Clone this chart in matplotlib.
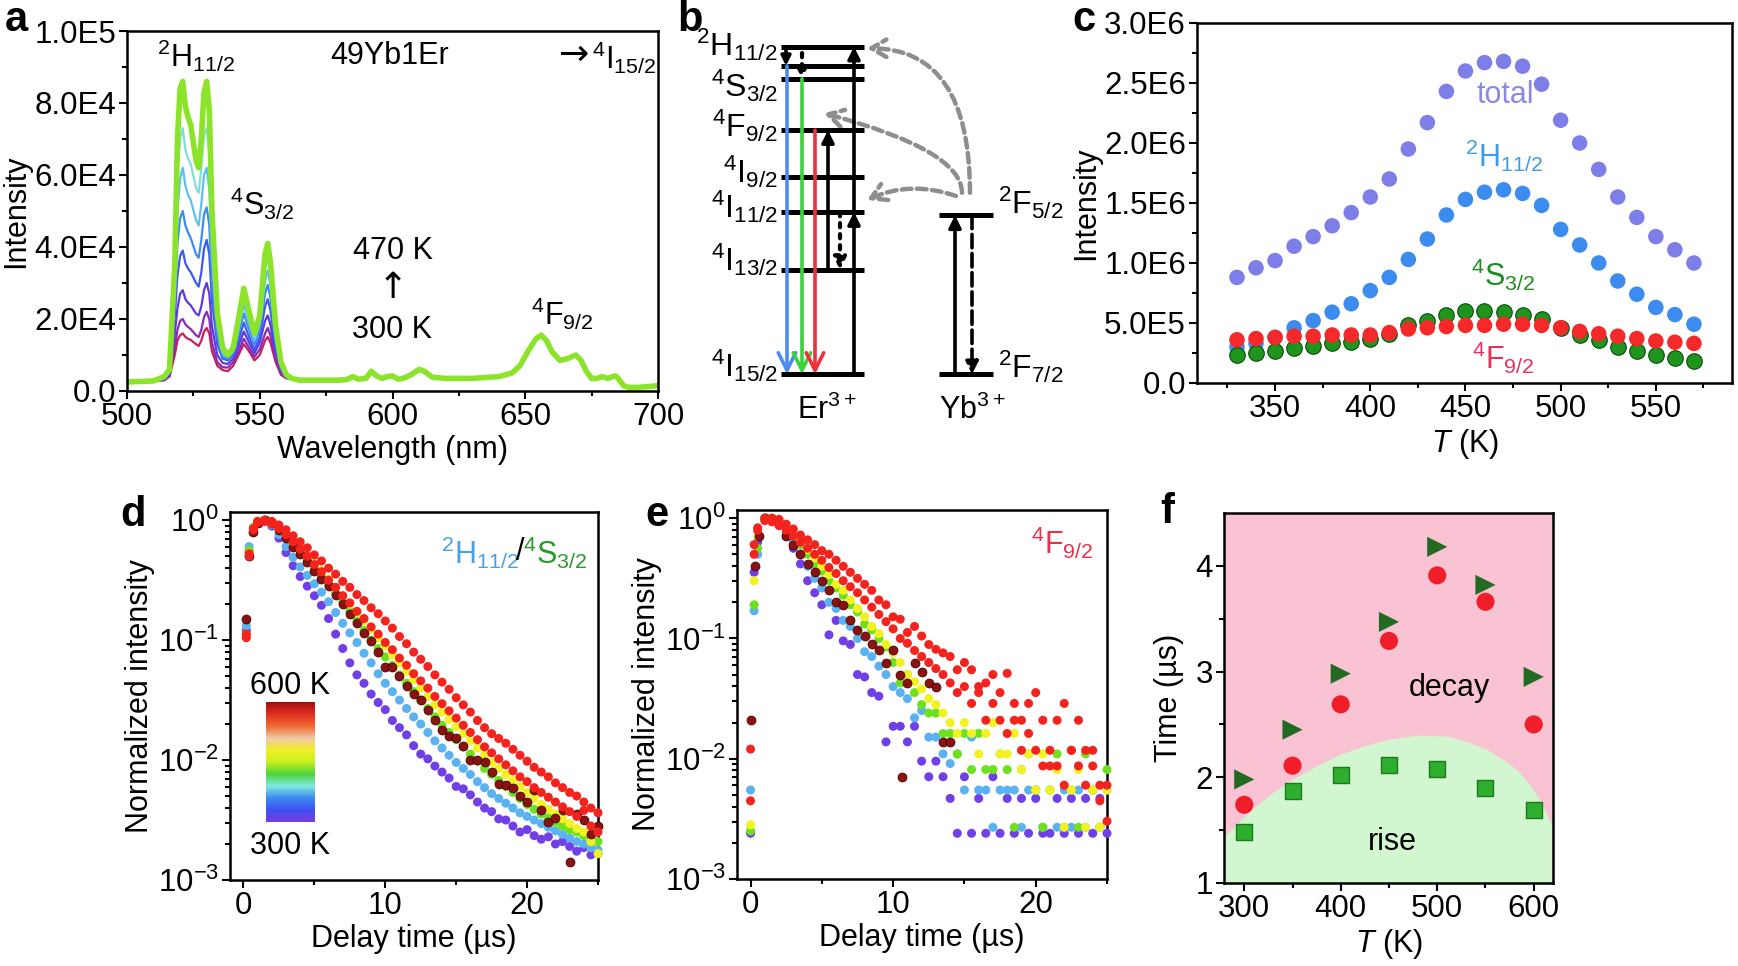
from __future__ import annotations

import matplotlib

matplotlib.use("Agg")
import matplotlib.pyplot as plt
import numpy as np
from matplotlib.colors import LinearSegmentedColormap
from matplotlib.patches import FancyArrowPatch

W, H = 1738, 966

# ---------------- panel a: emission spectra (intensity in units of 1E4) ----------------
spec_wl_green = [500, 510, 514, 516, 518, 519, 520, 521, 522, 523, 524, 526, 527, 528, 529, 530, 531,
                 532, 534, 536, 538, 540, 542, 544, 546, 548, 550, 552, 553, 554, 556, 558, 560]
spec_t300 = [0.25, 0.28, 0.3, 0.4, 1.0, 1.4, 1.55, 1.6, 1.5, 1.45, 1.42, 1.3, 1.25, 1.4, 1.65, 1.75, 1.6,
             1.1, 0.7, 0.58, 0.55, 0.7, 1.0, 1.3, 1.1, 0.85, 1.0, 1.4, 1.5, 1.35, 0.8, 0.45, 0.35]
spec_t325 = [0.25, 0.28, 0.3, 0.42, 1.2, 1.7, 1.95, 2.0, 1.85, 1.78, 1.72, 1.55, 1.5, 1.7, 2.05, 2.2, 2.0,
             1.35, 0.8, 0.66, 0.65, 0.8, 1.1, 1.45, 1.2, 0.95, 1.15, 1.6, 1.75, 1.55, 0.9, 0.5, 0.36]
spec_t350 = [0.25, 0.28, 0.32, 0.45, 1.6, 2.3, 2.7, 2.8, 2.55, 2.45, 2.38, 2.15, 2.1, 2.35, 2.8, 3.0, 2.7,
             1.8, 1.0, 0.78, 0.75, 0.9, 1.25, 1.65, 1.35, 1.05, 1.35, 1.95, 2.1, 1.85, 1.05, 0.55, 0.37]
spec_t375 = [0.25, 0.28, 0.33, 0.5, 2.1, 3.2, 3.75, 3.9, 3.55, 3.4, 3.3, 3.0, 2.9, 3.3, 3.95, 4.2, 3.8,
             2.5, 1.3, 0.9, 0.85, 1.0, 1.4, 1.9, 1.5, 1.15, 1.5, 2.35, 2.55, 2.25, 1.2, 0.6, 0.38]
spec_t400 = [0.25, 0.28, 0.35, 0.52, 2.6, 4.1, 4.8, 5.0, 4.6, 4.4, 4.25, 3.8, 3.7, 4.2, 4.9, 5.1, 4.6,
             3.0, 1.5, 0.95, 0.9, 1.05, 1.55, 2.15, 1.7, 1.3, 1.7, 2.7, 2.95, 2.6, 1.35, 0.65, 0.4]
spec_t425 = [0.25, 0.28, 0.36, 0.55, 3.0, 5.0, 5.9, 6.2, 5.7, 5.45, 5.3, 4.75, 4.6, 5.2, 6.0, 6.2, 5.6,
             3.7, 1.8, 1.05, 0.95, 1.1, 1.7, 2.4, 1.85, 1.4, 1.85, 3.05, 3.35, 2.95, 1.5, 0.7, 0.42]
spec_t450 = [0.25, 0.28, 0.38, 0.58, 3.3, 6.0, 7.0, 7.3, 6.7, 6.45, 6.3, 5.65, 5.5, 6.2, 7.1, 7.3, 6.6,
             4.4, 2.0, 1.1, 1.0, 1.15, 1.85, 2.6, 2.0, 1.5, 1.95, 3.4, 3.7, 3.25, 1.65, 0.75, 0.44]
spec_t470 = [0.25, 0.28, 0.4, 0.6, 3.5, 7.0, 8.4, 8.6, 7.9, 7.6, 7.4, 6.4, 6.2, 7.0, 8.3, 8.6, 7.8,
             5.0, 2.2, 1.2, 1.0, 1.2, 2.0, 2.85, 2.2, 1.6, 2.1, 3.8, 4.1, 3.6, 1.8, 0.8, 0.45]
# the red part of the spectrum hardly changes with temperature
spec_wl_tail = [562, 565, 570, 575, 580, 583, 585, 587, 590, 592, 594, 596, 598, 600, 602, 604, 607, 610,
                612, 615, 620, 630, 640, 645, 648, 651, 654, 656, 658, 660, 663, 666, 669, 671, 673, 675,
                677, 679, 681, 683, 684, 685, 687, 689, 692, 696, 700]
spec_tail = [0.35, 0.3, 0.3, 0.3, 0.3, 0.32, 0.4, 0.33, 0.35, 0.55, 0.42, 0.35, 0.4, 0.42, 0.33, 0.35, 0.45,
             0.6, 0.55, 0.38, 0.35, 0.35, 0.4, 0.5, 0.7, 1.1, 1.45, 1.55, 1.4, 1.1, 0.85, 0.9, 1.0, 0.85,
             0.55, 0.35, 0.35, 0.4, 0.35, 0.4, 0.42, 0.35, 0.15, 0.1, 0.1, 0.12, 0.15]

# ---------------- panel b: energy levels (1E3 cm-1) ----------------
er_levels = [0.0, 6.5, 10.1, 12.3, 15.2, 18.4, 19.2, 20.4]
er_labels = ["$^{4}$I$_{15/2}$", "$^{4}$I$_{13/2}$", "$^{4}$I$_{11/2}$", "$^{4}$I$_{9/2}$",
             "$^{4}$F$_{9/2}$", "$^{4}$S$_{3/2}$", "$^{2}$H$_{11/2}$"]
yb_levels = [0.0, 9.9]
yb_labels = ["$^{2}$F$_{7/2}$", "$^{2}$F$_{5/2}$"]

# ---------------- panel c: integrated intensity (units of 1E6) ----------------
c_temp = [330, 340, 350, 360, 370, 380, 390, 400, 410, 420, 430, 440, 450, 460, 470, 480, 490, 500,
          510, 520, 530, 540, 550, 560, 570]
c_total = [0.88, 0.96, 1.02, 1.14, 1.22, 1.31, 1.42, 1.55, 1.70, 1.95, 2.17, 2.43, 2.60, 2.67, 2.68,
           2.64, 2.49, 2.19, 2.00, 1.78, 1.55, 1.38, 1.22, 1.11, 1.00]
c_h112 = [0.30, 0.33, 0.38, 0.46, 0.52, 0.59, 0.66, 0.77, 0.88, 1.03, 1.20, 1.40, 1.53, 1.59, 1.61,
          1.58, 1.48, 1.28, 1.15, 1.00, 0.85, 0.74, 0.63, 0.57, 0.49]
c_s32 = [0.23, 0.25, 0.27, 0.29, 0.31, 0.33, 0.34, 0.37, 0.41, 0.48, 0.52, 0.57, 0.60, 0.60, 0.59,
         0.57, 0.53, 0.46, 0.40, 0.36, 0.30, 0.27, 0.23, 0.21, 0.18]
c_f92 = [0.36, 0.37, 0.38, 0.39, 0.39, 0.40, 0.40, 0.40, 0.42, 0.45, 0.46, 0.47, 0.48, 0.48, 0.49,
         0.49, 0.48, 0.46, 0.43, 0.41, 0.39, 0.37, 0.35, 0.34, 0.33]

# ---------------- panels d, e: decay curves, log10 of normalized intensity ----------------
decay_t = [1.0, 1.5, 2.0, 2.5, 3.0, 3.5, 4.0, 4.5, 5.0, 5.5, 6.0, 6.5, 7.0, 7.5, 8.0, 8.5, 9.0, 9.5,
           10.0, 10.5, 11.0, 11.5, 12.0, 12.5, 13.0, 13.5, 14.0, 14.5, 15.0, 15.5, 16.0, 16.5, 17.0,
           17.5, 18.0, 18.5, 19.0, 19.5, 20.0, 20.5, 21.0, 21.5, 22.0, 22.5, 23.0, 23.5, 24.0, 24.5, 25.0]

d_rise_t = [0.2, 0.4, 0.7, 1.0]
d_purple = [-0.92, -0.26, -0.08, -0.02,
            0.00, -0.05, -0.15, -0.27, -0.38, -0.47, -0.55, -0.63, -0.71, -0.82, -0.95, -1.07, -1.19,
            -1.29, -1.36, -1.45, -1.52, -1.58, -1.67, -1.73, -1.79, -1.88, -1.95, -1.99, -2.05, -2.10,
            -2.15, -2.22, -2.24, -2.29, -2.35, -2.40, -2.43, -2.49, -2.50, -2.55, -2.60, -2.58, -2.63,
            -2.66, -2.64, -2.70, -2.68, -2.72, -2.76, -2.73, -2.79, -2.78]
d_blue = [-0.88, -0.22, -0.06, -0.01,
          0.00, -0.04, -0.12, -0.22, -0.31, -0.39, -0.46, -0.53, -0.60, -0.68, -0.77, -0.86, -0.94,
          -1.02, -1.11, -1.19, -1.28, -1.36, -1.43, -1.50, -1.57, -1.64, -1.70, -1.77, -1.84, -1.90,
          -1.96, -2.02, -2.07, -2.12, -2.18, -2.23, -2.28, -2.32, -2.36, -2.40, -2.44, -2.47, -2.50,
          -2.53, -2.56, -2.59, -2.62, -2.65, -2.68, -2.70, -2.73, -2.75]
d_green = [-0.95, -0.25, -0.06, -0.01,
           0.00, -0.02, -0.07, -0.13, -0.20, -0.26, -0.33, -0.40, -0.47, -0.54, -0.61, -0.68, -0.76,
           -0.84, -0.92, -1.00, -1.07, -1.14, -1.21, -1.29, -1.36, -1.43, -1.50, -1.57, -1.64, -1.71,
           -1.77, -1.83, -1.89, -1.95, -2.01, -2.07, -2.12, -2.17, -2.22, -2.27, -2.32, -2.37, -2.41,
           -2.45, -2.48, -2.52, -2.55, -2.58, -2.60, -2.63, -2.66, -2.68]
d_yellow = [-0.97, -0.28, -0.07, -0.01,
            0.00, -0.02, -0.06, -0.11, -0.17, -0.23, -0.29, -0.36, -0.42, -0.49, -0.56, -0.63, -0.70,
            -0.77, -0.84, -0.91, -0.98, -1.05, -1.12, -1.19, -1.26, -1.33, -1.40, -1.47, -1.54, -1.60,
            -1.66, -1.72, -1.78, -1.84, -1.90, -1.96, -2.02, -2.07, -2.12, -2.17, -2.22, -2.27, -2.32,
            -2.37, -2.41, -2.45, -2.49, -2.53, -2.57, -2.60, -2.68, -2.78]
d_darkred = [-0.82, -0.30, -0.10, -0.02,
             0.00, -0.02, -0.08, -0.15, -0.22, -0.28, -0.35, -0.42, -0.49, -0.55, -0.62, -0.70, -0.78,
             -0.86, -0.94, -1.01, -1.10, -1.22, -1.22, -1.30, -1.38, -1.45, -1.50, -1.58, -1.67, -1.75,
             -1.80, -1.82, -1.88, -2.00, -2.00, -2.02, -2.10, -2.20, -2.21, -2.23, -2.30, -2.35, -2.25,
             -2.42, -2.52, -2.48, -2.42, -2.85, -2.45, -2.50, -2.62, -2.55]
d_red = [-0.98, -0.30, -0.08, -0.02,
         0.00, -0.01, -0.04, -0.08, -0.13, -0.18, -0.23, -0.29, -0.34, -0.40, -0.45, -0.51, -0.56,
         -0.62, -0.67, -0.73, -0.78, -0.84, -0.90, -0.97, -1.03, -1.10, -1.16, -1.22, -1.29, -1.35,
         -1.41, -1.48, -1.54, -1.60, -1.67, -1.73, -1.78, -1.82, -1.86, -1.91, -1.96, -2.01, -2.06,
         -2.10, -2.14, -2.19, -2.23, -2.27, -2.30, -2.35, -2.40, -2.44]
d_red2 = [-0.95, -0.28, -0.07, -0.01,
          -0.01, -0.03, -0.07, -0.12, -0.18, -0.24, -0.30, -0.37, -0.43, -0.50, -0.56, -0.63, -0.69,
          -0.76, -0.82, -0.89, -0.95, -1.02, -1.08, -1.15, -1.21, -1.28, -1.34, -1.40, -1.47, -1.53,
          -1.59, -1.65, -1.71, -1.77, -1.83, -1.89, -1.94, -1.99, -2.04, -2.09, -2.14, -2.18, -2.23,
          -2.27, -2.31, -2.35, -2.39, -2.43, -2.47, -2.42, -2.55, -2.60]

e_rise_t = [0.0, 0.25, 0.5]
e_purple = [-2.62, -0.45, -0.20,
            0.00, -0.02, -0.06, -0.15, -0.25, -0.38, -0.52, -0.62, -0.72, -0.97, -0.85, -1.02, -1.05,
            -1.30, -1.32, -1.45, -1.48, -1.86, -1.73, -1.73, -1.86, -1.73, -2.02, -2.15, -2.02, -2.15,
            -2.33, -2.62, -2.15, -2.62, -2.33, -2.62, -2.15, -2.62, -2.33, -2.62, -2.33, -2.62, -2.33,
            -2.62, -2.62, -2.33, -2.62, -2.33, -2.62, -2.33, -2.62, -2.33, -2.62]
e_blue = [-2.26, -0.77, -0.30,
          0.00, -0.01, -0.05, -0.12, -0.20, -0.30, -0.40, -0.50, -0.58, -0.70, -0.75, -0.85, -0.90,
          -1.00, -1.11, -1.15, -1.23, -1.30, -1.40, -1.45, -1.50, -1.66, -1.60, -1.82, -1.82, -1.96,
          -2.04, -1.96, -2.26, -1.82, -2.26, -2.26, -2.57, -2.26, -2.26, -2.26, -2.57, -2.26, -2.26,
          -2.57, -2.26, -2.57, -2.26, -2.57, -2.26, -2.57, -2.26, -2.57, -2.26]
e_green = [-2.60, -0.72, -0.25,
           0.00, 0.00, -0.03, -0.08, -0.14, -0.22, -0.30, -0.38, -0.44, -0.52, -0.58, -0.64, -0.72,
           -0.78, -0.88, -0.93, -1.00, -1.07, -1.20, -1.37, -1.30, -1.45, -1.55, -1.62, -1.62, -1.79,
           -1.79, -1.96, -1.79, -2.09, -1.79, -2.09, -2.09, -1.96, -2.09, -2.57, -2.09, -1.96, -2.26,
           -2.57, -2.26, -1.96, -2.57, -2.26, -2.57, -1.96, -2.26, -2.57, -2.09]
e_yellow = [-2.55, -0.52, -0.15,
            0.00, 0.00, -0.02, -0.07, -0.12, -0.19, -0.26, -0.33, -0.40, -0.47, -0.55, -0.60, -0.68,
            -0.75, -0.82, -0.90, -0.96, -1.05, -1.12, -1.20, -1.30, -1.36, -1.42, -1.50, -1.55, -1.62,
            -1.70, -1.79, -1.70, -1.79, -1.96, -1.79, -1.70, -1.96, -1.96, -1.79, -2.09, -1.96, -2.26,
            -1.96, -2.26, -2.09, -2.57, -2.26, -2.09, -2.57, -2.26, -2.57, -2.26]
e_darkred_t = [0.0, 0.3, 0.6, 1.0, 1.5, 2.0, 2.5, 3.0, 3.5, 4.0, 4.5, 5.0, 5.5, 6.0, 6.5, 7.0, 7.5,
               8.0, 8.5, 9.0, 9.5, 10.0, 10.5, 11.0, 11.5, 12.0, 12.5, 13.0, 13.5, 14.0, 10.6]
e_darkred = [-1.68, -0.40, -0.15, 0.00, -0.01, -0.05, -0.15, -0.22, -0.30, -0.38, -0.45, -0.52, -0.60,
             -0.70, -0.72, -0.85, -0.93, -0.98, -1.05, -1.10, -1.20, -1.10, -1.30, -1.37, -1.20, -1.28,
             -1.37, -1.40, -1.86, -1.86, -2.15]
e_red = [-1.92, -0.30, -0.10,
         0.00, 0.00, -0.01, -0.05, -0.09, -0.14, -0.18, -0.22, -0.27, -0.30, -0.35, -0.40, -0.45,
         -0.50, -0.55, -0.60, -0.68, -0.72, -0.82, -0.84, -0.95, -0.90, -0.98, -1.05, -1.09, -1.12,
         -1.15, -1.26, -1.20, -1.26, -1.40, -1.37, -1.30, -1.45, -1.29, -1.54, -1.68, -1.54, -1.45,
         -1.68, -2.06, -1.68, -1.54, -1.93, -1.68, -1.93, -1.93, -2.22, -2.52]
e_red2 = [-2.35, -0.22, -0.08,
          -0.02, -0.03, -0.06, -0.10, -0.15, -0.20, -0.25, -0.30, -0.35, -0.41, -0.46, -0.52, -0.57,
          -0.62, -0.68, -0.74, -0.80, -0.86, -0.92, -1.00, -1.04, -1.10, -1.15, -1.20, -1.25, -1.30,
          -1.37, -1.45, -1.40, -1.54, -1.45, -1.68, -1.54, -1.68, -1.79, -1.68, -1.93, -1.79, -1.93,
          -2.06, -1.93, -2.06, -2.22, -1.93, -2.06, -2.22, -2.06, -2.35, -2.22]

# ---------------- panel f: rise / decay times (us) ----------------
f_temp = [300, 350, 400, 450, 500, 550, 600]
f_decay_h = [1.98, 2.45, 2.98, 3.47, 4.18, 3.82, 2.95]
f_decay_f = [1.74, 2.11, 2.69, 3.29, 3.91, 3.66, 2.50]
f_rise = [1.48, 1.87, 2.02, 2.12, 2.08, 1.90, 1.69]
f_dome_t = [279, 290, 300, 315, 330, 350, 375, 400, 425, 450, 480, 510, 530, 550, 570, 585, 600, 610, 620]
f_dome_y = [1.44, 1.54, 1.63, 1.75, 1.86, 1.98, 2.11, 2.22, 2.30, 2.36, 2.40, 2.39, 2.34, 2.27, 2.16,
            2.05, 1.88, 1.72, 1.52]

PURPLE, LBLUE, GREEN, YELLOW, DARKRED, RED = "#7040E6", "#5AB2F0", "#6EE01E", "#F2F222", "#8B1212", "#F4231E"

plt.rcParams["font.family"] = ["Liberation Sans", "DejaVu Sans"]
plt.rcParams["mathtext.fontset"] = "custom"
plt.rcParams["mathtext.rm"] = "Liberation Sans"
plt.rcParams["mathtext.it"] = "Liberation Sans:italic"
plt.rcParams["mathtext.bf"] = "Liberation Sans:bold"
plt.rcParams["axes.linewidth"] = 1.8

TICK = 22.5
LABEL = 22
NOTE = 22


def px_axes(fig, left, top, right, bottom):
    return fig.add_axes([left / W, 1 - bottom / H, (right - left) / W, (bottom - top) / H])


def style(ax):
    ax.tick_params(which="both", direction="out", width=1.5, labelsize=TICK, top=False, right=False)
    ax.tick_params(which="major", length=6, pad=2)
    ax.tick_params(which="minor", length=3.5)


def fig_text(fig, x, y, s, **kw):
    fig.text(x / W, 1 - y / H, s, **kw)


def panel_a(fig):
    ax = px_axes(fig, 127, 31, 658, 391)
    curves = [spec_t300, spec_t325, spec_t350, spec_t375, spec_t400, spec_t425, spec_t450, spec_t470]
    colors = ["#C8205A", "#8A2BB8", "#5B3BE0", "#3A5AF0", "#3C8CF0", "#5CC0F0", "#80E0D8", "#8BE42A"]
    x = spec_wl_green + spec_wl_tail
    for i, (vals, color) in enumerate(zip(curves, colors)):
        lw = 4.0 if i == len(curves) - 1 else 1.6
        ax.plot(x, np.array(vals + spec_tail) * 1e4, color=color, lw=lw, solid_joinstyle="round")
    ax.set_xlim(500, 700)
    ax.set_ylim(0, 1e5)
    ax.set_xticks([500, 550, 600, 650, 700])
    ax.set_xticks([525, 575, 625, 675], minor=True)
    ax.set_yticks([0, 2e4, 4e4, 6e4, 8e4, 1e5])
    ax.set_yticklabels(["0.0", "2.0E4", "4.0E4", "6.0E4", "8.0E4", "1.0E5"])
    ax.set_yticks([1e4, 3e4, 5e4, 7e4, 9e4], minor=True)
    style(ax)
    ax.set_xlabel("Wavelength (nm)", fontsize=LABEL, labelpad=2)
    ax.set_ylabel("Intensity", fontsize=LABEL, labelpad=2)
    kw = dict(fontsize=NOTE, ha="center", va="center")
    ax.text(526, 0.93e5, "$^{2}$H$_{11/2}$", **kw)
    ax.text(599, 0.93e5, "49Yb1Er", **kw)
    ax.text(674, 0.935e5, "\u2192", fontsize=26, ha="right", va="center", family="DejaVu Sans")
    ax.text(675, 0.925e5, "$^{4}$I$_{15/2}$", fontsize=NOTE, ha="left", va="center")
    ax.text(551, 0.52e5, "$^{4}$S$_{3/2}$", **kw)
    ax.text(600, 0.39e5, "470 K", **kw)
    ax.text(600, 0.285e5, "\u2191", fontsize=26, ha="center", va="center", family="DejaVu Sans")
    ax.text(600, 0.17e5, "300 K", **kw)
    ax.text(664, 0.215e5, "$^{4}$F$_{9/2}$", **kw)


def arrow(ax, x, y0, y1, color="black", style="-|>", ls="-", lw=2.6, scale=18):
    ax.annotate("", xy=(x, y1), xytext=(x, y0),
                arrowprops=dict(arrowstyle=style, color=color, lw=lw, linestyle=ls,
                                shrinkA=0, shrinkB=0, mutation_scale=scale))


def panel_b(fig):
    ax = px_axes(fig, 700, 15, 1065, 430)
    ax.set_xlim(700, 1065)
    ax.set_ylim(-3.47, 22.37)
    ax.axis("off")
    ax.hlines(er_levels, 781, 864, color="black", lw=3.6)
    ax.hlines(yb_levels, 939, 993, color="black", lw=3.6)

    open_head = "->,head_length=0.7,head_width=0.35"
    arrow(ax, 787, er_levels[6], er_levels[0], color="#4C8CF0", style=open_head)
    arrow(ax, 802, er_levels[5], er_levels[0], color="#3CD23C", style=open_head)
    arrow(ax, 815, er_levels[4], er_levels[0], color="#F0303C", style=open_head)
    arrow(ax, 828, er_levels[1], er_levels[4])
    arrow(ax, 840, er_levels[2], er_levels[1], ls=":", lw=3)
    arrow(ax, 854, er_levels[0], er_levels[2])
    arrow(ax, 854, er_levels[2], er_levels[7])
    arrow(ax, 786, er_levels[7], er_levels[6], scale=14)
    arrow(ax, 802, 20.0, er_levels[5], ls=":", lw=3, scale=14)
    arrow(ax, 955, yb_levels[0], yb_levels[1])
    arrow(ax, 972, yb_levels[1], yb_levels[0], ls="--")

    gray = dict(arrowstyle="->,head_length=0.6,head_width=0.35", color="#8E8E8E", lw=3.2,
                linestyle=(0, (2.2, 1.2)), mutation_scale=18, shrinkA=0, shrinkB=0)
    ax.add_patch(FancyArrowPatch((970, 11.3), (867, 20.3),
                                 connectionstyle="angle3,angleA=90,angleB=0", **gray))
    ax.add_patch(FancyArrowPatch((962, 11.3), (824, 16.25),
                                 connectionstyle="angle3,angleA=90,angleB=-15", **gray))
    ax.add_patch(FancyArrowPatch((956, 11.1), (867, 10.85),
                                 connectionstyle="arc3,rad=0.2", **gray))

    label_e = [0.55, 7.1, 10.45, 12.6, 15.45, 17.95, 20.5]
    for text, e in zip(er_labels, label_e):
        ax.text(778, e, text, fontsize=NOTE + 1, ha="right", va="center")
    ax.text(998, 0.47, yb_labels[0], fontsize=NOTE + 1, ha="left", va="center")
    ax.text(998, 10.67, yb_labels[1], fontsize=NOTE + 1, ha="left", va="center")
    ax.text(827, -2.25, "Er$^{3+}$", fontsize=NOTE, ha="center", va="center")
    ax.text(972, -2.25, "Yb$^{3+}$", fontsize=NOTE, ha="center", va="center")


def panel_c(fig):
    ax = px_axes(fig, 1197, 23, 1732, 383)
    t = np.array(c_temp)
    ax.scatter(t, np.array(c_total) * 1e6, s=125, color="#7E7EE8", edgecolor="none", zorder=3)
    ax.scatter(t, np.array(c_h112) * 1e6, s=125, color="#3C8CF0", edgecolor="none", zorder=3)
    ax.scatter(t, np.array(c_s32) * 1e6, s=125, color="#1E961E", edgecolor="#0B4A0B", lw=0.8, zorder=3)
    ax.scatter(t, np.array(c_f92) * 1e6, s=125, color="#F5282A", edgecolor="none", zorder=3)
    ax.set_xlim(309, 590)
    ax.set_ylim(0, 3e6)
    ax.set_xticks([350, 400, 450, 500, 550])
    ax.set_xticks([325, 375, 425, 475, 525, 575], minor=True)
    ax.set_yticks([0, 0.5e6, 1e6, 1.5e6, 2e6, 2.5e6, 3e6])
    ax.set_yticklabels(["0.0", "5.0E5", "1.0E6", "1.5E6", "2.0E6", "2.5E6", "3.0E6"])
    ax.set_yticks([0.25e6, 0.75e6, 1.25e6, 1.75e6, 2.25e6, 2.75e6], minor=True)
    style(ax)
    ax.set_xlabel("$T$ (K)", fontsize=LABEL, labelpad=2)
    ax.set_ylabel("Intensity", fontsize=LABEL, labelpad=2)
    kw = dict(fontsize=NOTE, ha="center", va="center")
    ax.text(471, 2.40e6, "total", color="#8A8AE0", **kw)
    ax.text(470, 1.89e6, "$^{2}$H$_{11/2}$", color="#3C9CEA", **kw)
    ax.text(470, 0.90e6, "$^{4}$S$_{3/2}$", color="#1E8C1E", **kw)
    ax.text(470, 0.21e6, "$^{4}$F$_{9/2}$", color="#E8305A", **kw)


def decay_axes(fig, box):
    ax = px_axes(fig, *box)
    ax.set_yscale("log")
    ax.set_xlim(-0.95, 25)
    ax.set_ylim(1e-3, 1.17)
    ax.set_xticks([0, 10, 20])
    ax.set_xticks([5, 15, 25], minor=True)
    ax.set_yticks([1e-3, 1e-2, 1e-1, 1])
    ax.set_yticklabels(["10$^{-3}$", "10$^{-2}$", "10$^{-1}$", "10$^{0}$"])
    ax.yaxis.set_minor_formatter(matplotlib.ticker.NullFormatter())
    style(ax)
    ax.set_xlabel("Delay time (\u00b5s)", fontsize=LABEL, labelpad=2)
    ax.set_ylabel("Normalized intensity", fontsize=LABEL, labelpad=2)
    return ax


def dots(ax, t, logv, color, edge="none"):
    ax.scatter(t, 10 ** np.array(logv), s=42, color=color, edgecolor=edge, lw=0.5, clip_on=False, zorder=3)


def panel_d(fig):
    ax = decay_axes(fig, (230, 512, 598, 880))
    t = d_rise_t + decay_t[1:]
    for vals, color in [(d_purple, PURPLE), (d_blue, LBLUE), (d_green, GREEN), (d_yellow, YELLOW)]:
        dots(ax, t, vals, color)
    dots(ax, t, d_darkred, DARKRED, edge="#3A0000")
    dots(ax, t, d_red2, RED)
    dots(ax, t, d_red, RED)
    ax.text(0.785, 0.89, "$^{2}$H$_{11/2}$", color="#4AA0E8", fontsize=NOTE, ha="right",
            va="center", transform=ax.transAxes)
    ax.text(0.79, 0.89, "/", color="black", fontsize=NOTE, ha="center", va="center", transform=ax.transAxes)
    ax.text(0.795, 0.89, "$^{4}$S$_{3/2}$", color="#2A9A2A", fontsize=NOTE, ha="left",
            va="center", transform=ax.transAxes)

    cmap = LinearSegmentedColormap.from_list(
        "temp", ["#7A3CE0", "#3C50F0", "#3C8CF0", "#80E8E0", "#4CD43C", "#C8F020", "#F0F028",
                 "#F0C8A8", "#F06C34", "#E03020", "#A01010"])
    cax = px_axes(fig, 266, 702, 315, 822)
    cax.imshow(np.linspace(0, 1, 256).reshape(-1, 1), cmap=cmap, aspect="auto", origin="lower")
    cax.axis("off")
    fig_text(fig, 290, 686, "600 K", fontsize=NOTE, ha="center", va="center")
    fig_text(fig, 290, 846, "300 K", fontsize=NOTE, ha="center", va="center")


def panel_e(fig):
    ax = decay_axes(fig, (737, 510, 1107, 879))
    t = e_rise_t + decay_t
    for vals, color in [(e_purple, PURPLE), (e_blue, LBLUE), (e_green, GREEN), (e_yellow, YELLOW)]:
        dots(ax, t, vals, color)
    dots(ax, e_darkred_t, e_darkred, DARKRED, edge="#3A0000")
    dots(ax, t, e_red2, RED)
    dots(ax, t, e_red, RED)
    ax.text(0.88, 0.91, "$^{4}$F$_{9/2}$", color="#E8304A", fontsize=NOTE, ha="center",
            va="center", transform=ax.transAxes)


def panel_f(fig):
    ax = px_axes(fig, 1224, 513, 1553, 883)
    ax.set_facecolor("#F9C3D3")
    ax.fill_between(f_dome_t, 1, f_dome_y, color="#D2F6D0", lw=0)
    ax.scatter(f_temp, f_rise, marker="s", s=120, color="#2EAE2E", edgecolor="#1B7A1B", lw=1, zorder=3)
    ax.scatter(f_temp, f_decay_f, marker="o", s=170, color="#F01E2A", edgecolor="none", zorder=3)
    ax.scatter(f_temp, f_decay_h, marker=">", s=210, color="#226A22", edgecolor="none", zorder=3)
    ax.set_xlim(279, 620)
    ax.set_ylim(1, 4.5)
    ax.set_xticks([300, 400, 500, 600])
    ax.set_xticks([350, 450, 550], minor=True)
    ax.set_yticks([1, 2, 3, 4])
    ax.set_yticks([1.5, 2.5, 3.5], minor=True)
    style(ax)
    ax.set_xlabel("$T$ (K)", fontsize=LABEL, labelpad=2)
    ax.set_ylabel("Time (\u00b5s)", fontsize=LABEL, labelpad=8)
    ax.text(513, 2.84, "decay", fontsize=NOTE, ha="center", va="center")
    ax.text(453, 1.39, "rise", fontsize=NOTE, ha="center", va="center")


def main() -> None:
    fig = plt.figure(figsize=(W / 100, H / 100), dpi=100)
    panel_a(fig)
    panel_b(fig)
    panel_c(fig)
    panel_d(fig)
    panel_e(fig)
    panel_f(fig)
    for letter, x, y in [("a", 16, 20), ("b", 690, 20), ("c", 1084, 20),
                         ("d", 133, 515), ("e", 657, 515), ("f", 1167, 512)]:
        fig_text(fig, x, y, letter, fontsize=30, fontweight="bold", ha="center", va="center")
    fig.savefig("out.png", dpi=100)
    plt.close(fig)


if __name__ == "__main__":
    main()
